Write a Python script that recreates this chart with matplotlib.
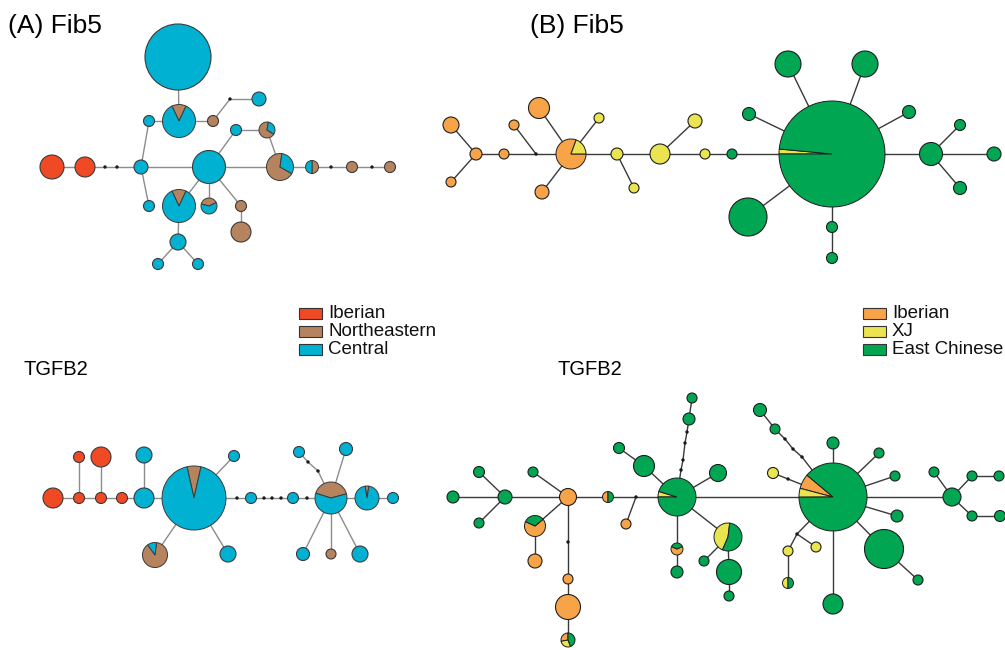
import matplotlib
matplotlib.use("Agg")
import matplotlib.pyplot as plt
from matplotlib.patches import Wedge, Circle, Rectangle

plt.rcParams['font.family'] = ['Liberation Sans', 'DejaVu Sans']

W, H = 1005, 650

# ---------------------------------------------------------------- groups
groups_a = ['Iberian', 'Northeastern', 'Central']
colors_a = ['#EF4A24', '#B5845E', '#00B1D2']
groups_b = ['Iberian', 'XJ', 'East Chinese']
colors_b = ['#F7A448', '#E9E44F', '#00A651']

# ---------------------------------------------------------------- (A) Fib5
# haplotype composition (Iberian, Northeastern, Central), in %
fib5_a_share = {
    'H1': (0, 0, 100), 'H2': (0, 14, 86), 'H3': (0, 0, 100), 'H4': (0, 100, 0),
    'H5': (0, 0, 100), 'H6': (0, 0, 100), 'H7': (0, 69, 31), 'H8': (100, 0, 0),
    'H9': (100, 0, 0), 'H10': (0, 0, 100), 'H11': (0, 0, 100), 'H12': (0, 69, 31),
    'H13': (0, 50, 50), 'H14': (0, 100, 0), 'H15': (0, 100, 0), 'H16': (0, 0, 100),
    'H17': (0, 14, 86), 'H18': (0, 39, 61), 'H19': (0, 100, 0), 'H20': (0, 100, 0),
    'H21': (0, 0, 100), 'H22': (0, 0, 100), 'H23': (0, 0, 100),
}
# node layout: x, y (pixels from top), radius, start angle of first slice
fib5_a_layout = {
    'H1': (178, 57, 33, 90), 'H2': (179, 121, 16.5, 64.8), 'H3': (149, 121, 5.5, 90),
    'H4': (213, 121, 5.5, 90), 'H5': (259, 99, 7, 90), 'H6': (236, 130, 5.5, 90),
    'H7': (267, 130, 8, 80), 'H8': (52, 167, 12, 90), 'H9': (85, 167, 10, 90),
    'H10': (141, 167, 7, 90), 'H11': (209, 167, 16.5, 90), 'H12': (280, 167, 13.5, 82),
    'H13': (312, 167, 6.5, -90), 'H14': (352, 167, 5.5, 90), 'H15': (390, 167, 5.5, 90),
    'H16': (149, 206, 5.5, 90), 'H17': (179, 206, 16.5, 64.8), 'H18': (209, 206, 8, 25),
    'H19': (241, 206, 5.5, 90), 'H20': (241, 232, 10, 90), 'H21': (178, 242, 8, 90),
    'H22': (158, 264, 5.5, 90), 'H23': (198, 264, 5.5, 90),
}
fib5_a_dots = {'m1': (230, 99), 'm2': (105, 167), 'm3': (117, 167),
               'm4': (331, 167), 'm5': (372, 167)}
fib5_a_links = [
    ('H1', 'H2'), ('H2', 'H3'), ('H2', 'H4'), ('H4', 'm1'), ('m1', 'H5'),
    ('H3', 'H10'), ('H8', 'H9'), ('H9', 'm2'), ('m2', 'm3'), ('m3', 'H10'),
    ('H10', 'H11'), ('H11', 'H12'), ('H12', 'H13'), ('H13', 'm4'), ('m4', 'H14'),
    ('H14', 'm5'), ('m5', 'H15'), ('H10', 'H16'), ('H11', 'H6'), ('H6', 'H7'),
    ('H7', 'H12'), ('H11', 'H17'), ('H11', 'H18'), ('H11', 'H19'), ('H19', 'H20'),
    ('H17', 'H21'), ('H21', 'H22'), ('H21', 'H23'),
]

# ---------------------------------------------------------------- (A) TGFB2
tgfb2_a_share = {
    'T1': (100, 0, 0), 'T2': (100, 0, 0), 'T3': (100, 0, 0), 'T4': (100, 0, 0),
    'T5': (100, 0, 0), 'T6': (100, 0, 0), 'T7': (0, 0, 100), 'T8': (0, 0, 100),
    'T9': (0, 7, 93), 'T10': (0, 0, 100), 'T11': (0, 88, 12), 'T12': (0, 0, 100),
    'T13': (0, 0, 100), 'T14': (0, 0, 100), 'T15': (0, 41, 59), 'T16': (0, 5, 95),
    'T17': (0, 0, 100), 'T18': (0, 0, 100), 'T19': (0, 0, 100), 'T20': (0, 0, 100),
    'T21': (0, 100, 0), 'T22': (0, 0, 100),
}
tgfb2_a_layout = {
    'T1': (53, 498, 10, 90), 'T2': (79, 498, 5.5, 90), 'T3': (79, 457, 5.5, 90),
    'T4': (101, 498, 5.5, 90), 'T5': (101, 457, 10, 90), 'T6': (122, 498, 5.5, 90),
    'T7': (144, 498, 10, 90), 'T8': (144, 455, 8, 90), 'T9': (194, 498, 32, 77.4),
    'T10': (234, 456, 5.5, 90), 'T11': (155, 555, 12.5, 126), 'T12': (228, 554, 8, 90),
    'T13': (251, 498, 5.5, 90), 'T14': (293, 498, 5.5, 90), 'T15': (331, 498, 16, 15),
    'T16': (367, 498, 12, 81), 'T17': (393, 498, 5.5, 90), 'T18': (299, 452, 5.5, 90),
    'T19': (346, 449, 6.5, 90), 'T20': (303, 554, 6.5, 90), 'T21': (331, 554, 5, 90),
    'T22': (360, 554, 8, 90),
}
tgfb2_a_dots = {'m1': (237, 498), 'm2': (264, 498), 'm3': (272, 498), 'm4': (281, 498),
                'm5': (307, 498), 'm6': (308, 462), 'm7': (318, 471)}
tgfb2_a_links = [
    ('T1', 'T2'), ('T2', 'T4'), ('T4', 'T6'), ('T6', 'T7'), ('T7', 'T9'),
    ('T9', 'm1'), ('m1', 'T13'), ('T13', 'm2'), ('m2', 'm3'), ('m3', 'm4'),
    ('m4', 'T14'), ('T14', 'm5'), ('m5', 'T15'), ('T15', 'T16'), ('T16', 'T17'),
    ('T2', 'T3'), ('T4', 'T5'), ('T7', 'T8'), ('T9', 'T10'), ('T9', 'T11'),
    ('T9', 'T12'), ('T15', 'm7'), ('m7', 'm6'), ('m6', 'T18'), ('T15', 'T19'),
    ('T15', 'T20'), ('T15', 'T21'), ('T15', 'T22'),
]

# ---------------------------------------------------------------- (B) Fib5
# haplotype composition (Iberian, XJ, East Chinese), in %
fib5_b_share = {
    'F1': (100, 0, 0), 'F2': (100, 0, 0), 'F3': (100, 0, 0), 'F4': (100, 0, 0),
    'F5': (100, 0, 0), 'F6': (100, 0, 0), 'F7': (80.6, 19.4, 0), 'F8': (0, 100, 0),
    'F9': (100, 0, 0), 'F10': (0, 100, 0), 'F11': (0, 100, 0), 'F12': (0, 100, 0),
    'F13': (0, 100, 0), 'F14': (0, 100, 0), 'F15': (0, 0, 100), 'F16': (0, 1.5, 98.5),
    'F17': (0, 0, 100), 'F18': (0, 0, 100), 'F19': (0, 0, 100), 'F20': (0, 0, 100),
    'F21': (0, 0, 100), 'F22': (0, 0, 100), 'F23': (0, 0, 100), 'F24': (0, 0, 100),
    'F25': (0, 0, 100), 'F26': (0, 0, 100), 'F27': (0, 0, 100),
}
fib5_b_layout = {
    'F1': (451, 125, 8, 90), 'F2': (476, 154, 6, 90), 'F3': (451, 182, 5, 90),
    'F4': (504, 154, 5, 90), 'F5': (514, 125, 5, 90), 'F6': (539, 108, 10.5, 90),
    'F7': (571, 154, 15, 70), 'F8': (599, 118, 5, 90), 'F9': (542, 192, 7, 90),
    'F10': (617, 154, 6, 90), 'F11': (634, 188, 5, 90), 'F12': (660, 154, 10, 90),
    'F13': (695, 121, 7, 90), 'F14': (705, 154, 5, 90), 'F15': (732, 154, 5, 90),
    'F16': (832, 154, 53, 174.6), 'F17': (788, 64, 13, 90), 'F18': (865, 64, 13, 90),
    'F19': (749, 114, 6.5, 90), 'F20': (909, 112, 6.5, 90), 'F21': (931, 154, 11.5, 90),
    'F22': (960, 125, 5.5, 90), 'F23': (994, 154, 7, 90), 'F24': (960, 188, 6.5, 90),
    'F25': (748, 217, 19, 90), 'F26': (832, 227, 5.5, 90), 'F27': (832, 258, 5.5, 90),
}
fib5_b_dots = {'m1': (536, 154)}
fib5_b_links = [
    ('F1', 'F2'), ('F3', 'F2'), ('F2', 'F4'), ('F4', 'm1'), ('F5', 'm1'),
    ('m1', 'F7'), ('F6', 'F7'), ('F8', 'F7'), ('F9', 'F7'), ('F7', 'F10'),
    ('F10', 'F11'), ('F10', 'F12'), ('F12', 'F13'), ('F12', 'F14'), ('F14', 'F15'),
    ('F15', 'F16'), ('F16', 'F17'), ('F16', 'F18'), ('F16', 'F19'), ('F16', 'F20'),
    ('F16', 'F21'), ('F21', 'F22'), ('F21', 'F23'), ('F21', 'F24'), ('F16', 'F25'),
    ('F16', 'F26'), ('F26', 'F27'),
]

# ---------------------------------------------------------------- (B) TGFB2
tgfb2_b_share = {
    'G1': (0, 0, 100), 'G2': (0, 0, 100), 'G3': (0, 0, 100), 'G4': (0, 0, 100),
    'G5': (0, 0, 100), 'G6': (100, 0, 0), 'G7': (68, 0, 32), 'G8': (100, 0, 0),
    'G9': (100, 0, 0), 'G10': (100, 0, 0), 'G11': (28, 28, 44), 'G12': (50, 0, 50),
    'G13': (100, 0, 0), 'G14': (0, 4.7, 95.3), 'G15': (0, 0, 100), 'G16': (0, 0, 100),
    'G17': (0, 0, 100), 'G18': (0, 0, 100), 'G19': (0, 0, 100), 'G20': (0, 45.5, 54.5),
    'G21': (64, 0, 36), 'G22': (0, 0, 100), 'G23': (0, 0, 100), 'G24': (0, 0, 100),
    'G25': (0, 0, 100), 'G26': (7, 4.2, 88.8), 'G27': (0, 0, 100), 'G28': (0, 0, 100),
    'G29': (0, 100, 0), 'G30': (0, 0, 100), 'G31': (0, 0, 100), 'G32': (0, 0, 100),
    'G33': (0, 0, 100), 'G34': (0, 0, 100), 'G35': (0, 0, 100), 'G36': (0, 0, 100),
    'G37': (0, 100, 0), 'G38': (0, 50, 50), 'G39': (0, 100, 0), 'G40': (0, 0, 100),
    'G41': (0, 0, 100), 'G42': (0, 0, 100), 'G43': (0, 0, 100), 'G44': (0, 0, 100),
    'G45': (0, 0, 100),
}
tgfb2_b_layout = {
    'G1': (453, 497, 6, 90), 'G2': (479, 472, 5.5, 90), 'G3': (505, 497, 7, 90),
    'G4': (479, 523, 5, 90), 'G5': (533, 472, 5, 90), 'G6': (568, 497, 8.5, 90),
    'G7': (535, 526, 10.5, 155), 'G8': (535, 561, 7, 90), 'G9': (568, 579, 5, 90),
    'G10': (568, 607, 12.5, 90), 'G11': (568, 640, 7, 90), 'G12': (608, 497, 5.5, 90),
    'G13': (626, 524, 5, 90), 'G14': (677, 497, 19, 163), 'G15': (619, 448, 5.5, 90),
    'G16': (644, 466, 10.5, 90), 'G17': (718, 473, 8.5, 90), 'G18': (692, 398, 5, 90),
    'G19': (689, 419, 6, 90), 'G20': (728, 537, 14, 83), 'G21': (677, 549, 6, 155),
    'G22': (677, 572, 6, 90), 'G23': (704, 561, 5, 90), 'G24': (729, 572, 12.5, 90),
    'G25': (729, 596, 5, 90), 'G26': (833, 497, 34, 140), 'G27': (760, 410, 6.5, 90),
    'G28': (775, 429, 5, 90), 'G29': (773, 473, 5.5, 90), 'G30': (833, 443, 6, 90),
    'G31': (879, 453, 5, 90), 'G32': (895, 476, 5, 90), 'G33': (897, 516, 6, 90),
    'G34': (884, 549, 19.5, 90), 'G35': (918, 580, 5, 90), 'G36': (833, 604, 10, 90),
    'G37': (788, 551, 5, 90), 'G38': (788, 583, 5.5, 90), 'G39': (816, 547, 5, 90),
    'G40': (952, 497, 9, 90), 'G41': (934, 472, 5, 90), 'G42': (972, 476, 5, 90),
    'G43': (999, 476, 5, 90), 'G44': (972, 516, 5, 90), 'G45': (1000, 516, 5.5, 90),
}
tgfb2_b_dots = {
    'm1': (568, 542), 'm2': (636, 497),
    'm3': (681, 470), 'm4': (683, 460), 'm5': (685, 443), 'm6': (687, 432),
    'm7': (802, 457), 'm8': (793, 449), 'm9': (785, 439),
    'm10': (788, 479), 'm11': (797, 534),
}
tgfb2_b_links = [
    ('G1', 'G3'), ('G2', 'G3'), ('G4', 'G3'), ('G3', 'G6'), ('G5', 'G6'),
    ('G6', 'G7'), ('G7', 'G8'), ('G6', 'm1'), ('m1', 'G9'), ('G9', 'G10'),
    ('G10', 'G11'), ('G6', 'G12'), ('G12', 'm2'), ('m2', 'G13'), ('m2', 'G14'),
    ('G14', 'G16'), ('G16', 'G15'), ('G14', 'm3'), ('m3', 'm4'), ('m4', 'm5'),
    ('m5', 'm6'), ('m6', 'G19'), ('G19', 'G18'), ('G14', 'G17'), ('G14', 'G20'),
    ('G20', 'G23'), ('G20', 'G24'), ('G24', 'G25'), ('G14', 'G21'), ('G21', 'G22'),
    ('G14', 'G26'), ('G26', 'm7'), ('m7', 'm8'), ('m8', 'm9'), ('m9', 'G28'),
    ('G28', 'G27'), ('G26', 'm10'), ('m10', 'G29'), ('G26', 'G30'), ('G26', 'G31'),
    ('G26', 'G32'), ('G26', 'G33'), ('G26', 'G34'), ('G34', 'G35'), ('G26', 'G36'),
    ('G26', 'm11'), ('m11', 'G37'), ('G37', 'G38'), ('m11', 'G39'), ('G26', 'G40'),
    ('G40', 'G41'), ('G40', 'G42'), ('G42', 'G43'), ('G40', 'G44'), ('G44', 'G45'),
]


def draw_network(ax, share, layout, dots, links, colors, link_color, link_lw, outline):
    pos = {k: (v[0], H - v[1]) for k, v in layout.items()}
    pos.update({k: (x, H - y) for k, (x, y) in dots.items()})
    for a, b in links:
        (x0, y0), (x1, y1) = pos[a], pos[b]
        ax.plot([x0, x1], [y0, y1], color=link_color, lw=link_lw, zorder=1,
                solid_capstyle='butt')
    for k in dots:
        ax.add_patch(Circle(pos[k], 1.7, fc='#1a1a1a', ec='none', zorder=2))
    for k, (x, y, r, t0) in layout.items():
        vals = share[k]
        tot = float(sum(vals))
        parts = [(c, v / tot) for c, v in zip(colors, vals) if v > 0]
        c = pos[k]
        if len(parts) == 1:
            ax.add_patch(Circle(c, r, fc=parts[0][0], ec=outline, lw=0.8, zorder=3))
            continue
        ang = t0
        for col, f in parts:
            ax.add_patch(Wedge(c, r, ang, ang + 360 * f, fc=col, ec=outline,
                               lw=0.7, zorder=3))
            ang += 360 * f


def draw_legend(ax, x, ys, labels, colors):
    for y, lab, col in zip(ys, labels, colors):
        ax.add_patch(Rectangle((x, H - y - 5.5), 23, 11, fc=col, ec='#333333',
                               lw=0.8, zorder=3))
        ax.text(x + 29, H - y, lab, fontsize=13.5, va='center', ha='left',
                color='#111111')


fig = plt.figure(figsize=(W / 100, H / 100), dpi=100)
ax = fig.add_axes([0, 0, 1, 1])
ax.set_xlim(0, W)
ax.set_ylim(0, H)
ax.axis('off')

draw_network(ax, fib5_a_share, fib5_a_layout, fib5_a_dots, fib5_a_links,
             colors_a, '#8c8c8c', 1.0, '#3a3a3a')
draw_network(ax, tgfb2_a_share, tgfb2_a_layout, tgfb2_a_dots, tgfb2_a_links,
             colors_a, '#8c8c8c', 1.0, '#3a3a3a')
draw_network(ax, fib5_b_share, fib5_b_layout, fib5_b_dots, fib5_b_links,
             colors_b, '#3a3a3a', 1.0, '#1e1e1e')
draw_network(ax, tgfb2_b_share, tgfb2_b_layout, tgfb2_b_dots, tgfb2_b_links,
             colors_b, '#3a3a3a', 1.0, '#1e1e1e')

draw_legend(ax, 299, [313, 331, 349], groups_a, colors_a)
draw_legend(ax, 863, [313, 331, 349], groups_b, colors_b)

ax.text(8, H - 33, '(A) Fib5', fontsize=19, va='baseline', ha='left')
ax.text(530, H - 33, '(B) Fib5', fontsize=19, va='baseline', ha='left')
ax.text(24, H - 375, 'TGFB2', fontsize=14.5, va='baseline', ha='left')
ax.text(557, H - 375, 'TGFB2', fontsize=14.5, va='baseline', ha='left')

fig.savefig('out.png', dpi=100)
